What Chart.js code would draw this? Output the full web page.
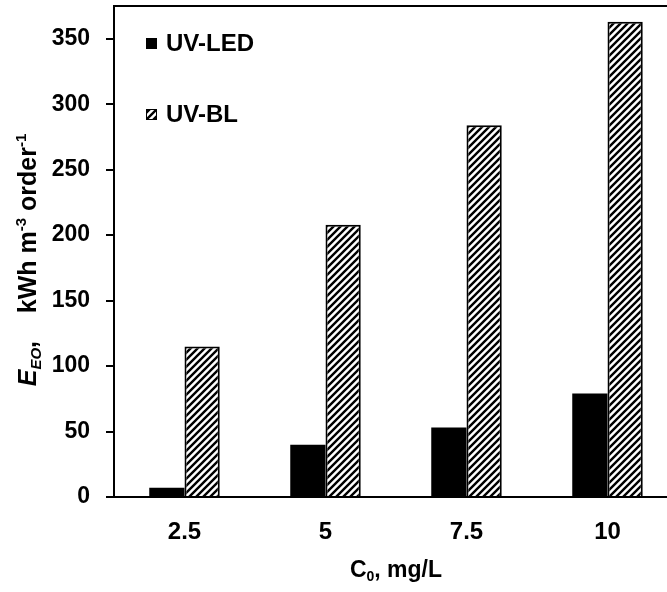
<!DOCTYPE html>
<html>
<head>
<meta charset="utf-8">
<script src="https://cdn.jsdelivr.net/npm/chart.js@4.4.1/dist/chart.umd.min.js"></script>
<style>
  html, body { margin: 0; padding: 0; background: #fff; overflow: hidden; }
  #wrap { width: 690px; height: 592px; }
</style>
</head>
<body>
<div id="wrap"><canvas id="chartBar"></canvas></div>
<script>
// data
const categories = ['2.5', '5', '7.5', '10'];
const ledValues = [7, 40, 53, 79];
const blValues = [115, 208, 284, 363];
const yTicks = [0, 50, 100, 150, 200, 250, 300, 350];

const FONT = '"Liberation Sans", Arial, sans-serif';

// hatch pattern for UV-BL bars
function makeHatch() {
  const c = document.createElement('canvas');
  c.width = 7; c.height = 7;
  const g = c.getContext('2d');
  g.fillStyle = '#fff';
  g.fillRect(0, 0, 7, 7);
  g.strokeStyle = '#000';
  g.lineWidth = 2.4;
  g.beginPath();
  g.moveTo(-1, 1); g.lineTo(1, -1);
  g.moveTo(0, 7); g.lineTo(7, 0);
  g.moveTo(6, 8); g.lineTo(8, 6);
  g.stroke();
  return g.createPattern(c, 'repeat');
}
const hatch = makeHatch();

// titles, legend and top frame line
const extras = {
  id: 'extras',
  afterDraw(chart) {
    const ctx = chart.ctx;
    const area = chart.chartArea;
    ctx.save();
    // top frame
    ctx.strokeStyle = '#000';
    ctx.lineWidth = 2;
    ctx.beginPath();
    ctx.moveTo(area.left, area.top);
    ctx.lineTo(area.right, area.top);
    ctx.stroke();

    // legend
    const items = [
      { label: 'UV-LED', fill: '#000', y: 43 },
      { label: 'UV-BL', fill: hatch, y: 114 }
    ];
    ctx.textBaseline = 'middle';
    ctx.textAlign = 'left';
    ctx.font = 'bold 24px ' + FONT;
    items.forEach(it => {
      ctx.fillStyle = it.fill;
      ctx.fillRect(146, it.y - 5, 11, 11);
      ctx.strokeStyle = '#000';
      ctx.lineWidth = 1;
      ctx.strokeRect(146.5, it.y - 4.5, 10, 10);
      ctx.fillStyle = '#000';
      ctx.fillText(it.label, 166, it.y + 1);
    });

    // x title: C0, mg/L
    ctx.textBaseline = 'alphabetic';
    const parts = [
      { t: 'C', f: 'bold 23px ' + FONT, dy: 0 },
      { t: '0', f: 'bold 14px ' + FONT, dy: 4 },
      { t: ', mg/L', f: 'bold 23px ' + FONT, dy: 0 }
    ];
    drawRun(ctx, parts, 396, 577);

    // y title: EEO, kWh m-3 order-1
    ctx.translate(36, 260);
    ctx.rotate(-Math.PI / 2);
    const yparts = [
      { t: 'E', f: 'italic bold 25px ' + FONT, dy: 0 },
      { t: 'EO', f: 'italic bold 15px ' + FONT, dy: 5 },
      { t: ',    kWh m', f: 'bold 25px ' + FONT, dy: 0 },
      { t: '-3', f: 'bold 15px ' + FONT, dy: -10 },
      { t: ' order', f: 'bold 25px ' + FONT, dy: 0 },
      { t: '-1', f: 'bold 15px ' + FONT, dy: -10 }
    ];
    drawRun(ctx, yparts, 0, 0);
    ctx.restore();
  }
};

function drawRun(ctx, parts, cx, y) {
  let total = 0;
  parts.forEach(p => { ctx.font = p.f; total += ctx.measureText(p.t).width; });
  let x = cx - total / 2;
  ctx.fillStyle = '#000';
  ctx.textAlign = 'left';
  parts.forEach(p => {
    ctx.font = p.f;
    ctx.fillText(p.t, x, y + p.dy);
    x += ctx.measureText(p.t).width;
  });
}

const ctxBar = document.getElementById('chartBar').getContext('2d');
const barChart = new Chart(ctxBar, {
  type: 'bar',
  data: {
    labels: categories,
    datasets: [
      {
        label: 'UV-LED',
        data: ledValues,
        backgroundColor: '#000',
        borderWidth: 0
      },
      {
        label: 'UV-BL',
        data: blValues,
        backgroundColor: hatch,
        borderColor: '#000',
        borderWidth: 2
      }
    ]
  },
  options: {
    responsive: true,
    maintainAspectRatio: false,
    animation: false,
    layout: { padding: { top: 6, right: 12, left: 0, bottom: 0 } },
    datasets: { bar: { barPercentage: 1, categoryPercentage: 0.5 } },
    plugins: {
      legend: { display: false },
      tooltip: { enabled: false }
    },
    scales: {
      x: {
        grid: { display: false },
        border: { display: true, color: '#000', width: 2 },
        ticks: {
          color: '#000',
          padding: 13,
          font: { family: FONT, size: 24, weight: 'bold' }
        },
        afterFit(scale) {
          scale.height = 95;
          scale.paddingLeft = 0;
          scale.paddingRight = 0;
        }
      },
      y: {
        min: 0,
        max: 375,
        grid: { drawOnChartArea: false, drawTicks: true, tickLength: 8, color: '#000', lineWidth: 2 },
        border: { display: true, color: '#000', width: 2 },
        ticks: {
          stepSize: 50,
          color: '#000',
          padding: 16,
          font: { family: FONT, size: 23, weight: 'bold' }
        },
        afterBuildTicks(scale) {
          scale.ticks = yTicks.map(v => ({ value: v }));
        },
        afterFit(scale) {
          scale.width = 114;
          scale.paddingTop = 0;
          scale.paddingBottom = 0;
        }
      }
    }
  },
  plugins: [extras]
});
</script>
</body>
</html>
